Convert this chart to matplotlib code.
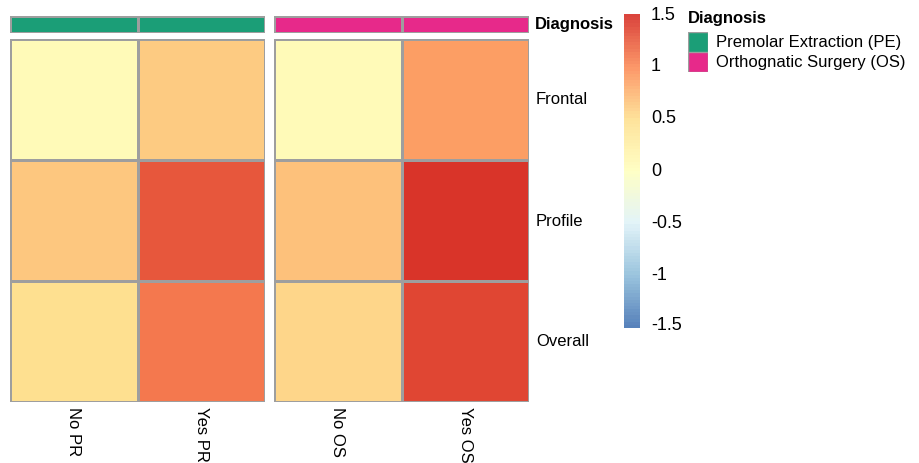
import numpy as np
import matplotlib
matplotlib.use("Agg")
import matplotlib.pyplot as plt
from matplotlib.colors import LinearSegmentedColormap, ListedColormap

plt.rcParams['font.family'] = ['Liberation Sans', 'DejaVu Sans']

# data
rows = ["Frontal", "Profile", "Overall"]
cols_pe = ["No PR", "Yes PR"]
cols_os = ["No OS", "Yes OS"]
vals_pe = [[0.07, 0.60],
           [0.63, 1.27],
           [0.48, 1.08]]
vals_os = [[0.07, 0.88],
           [0.66, 1.47],
           [0.55, 1.37]]
groups = ["Premolar Extraction (PE)", "Orthognatic Surgery (OS)"]
group_colors = ["#1B9E77", "#E7298A"]
breaks = [-1.5, -1, -0.5, 0, 0.5, 1, 1.5]

W, H = 919, 463
fig = plt.figure(figsize=(W / 100, H / 100), dpi=100)
FS = 12

def px(x0, y0, x1, y1):
    # pixel box -> figure fraction
    return [x0 / W, 1 - y1 / H, (x1 - x0) / W, (y1 - y0) / H]

# RdYlBu reversed, 7 brewer colours stretched to 100 steps
base = ["#4575B4", "#91BFDB", "#E0F3F8", "#FFFFBF", "#FEE090", "#FC8D59", "#D73027"]
smooth = LinearSegmentedColormap.from_list("rdylbu7", base)
cmap = ListedColormap(smooth(np.linspace(0, 1, 100)))
vmin, vmax = -1.5, 1.5
grid = "#9E9E9E"

panels = [(10, 265, vals_pe, cols_pe, 0), (274, 529, vals_os, cols_os, 1)]
for x0, x1, vals, cols, gi in panels:
    # annotation strip
    ax_a = fig.add_axes(px(x0, 16, x1, 33))
    ax_a.pcolormesh(np.zeros((1, len(cols))), cmap=ListedColormap([group_colors[gi]]),
                    edgecolors=grid, linewidth=1.0)
    ax_a.set_axis_off()

    # heatmap body
    ax = fig.add_axes(px(x0, 39, x1, 402))
    ax.pcolormesh(np.array(vals), cmap=cmap, vmin=vmin, vmax=vmax,
                  edgecolors=grid, linewidth=1.0)
    ax.set_xlim(0, len(cols))
    ax.set_ylim(len(rows), 0)
    ax.set_axis_off()
    cw = (x1 - x0) / len(cols)
    for j, c in enumerate(cols):
        fig.text((x0 + cw * (j + 0.5)) / W, 1 - 407 / H, c,
                 rotation=270, ha="center", va="top", fontsize=FS)

for i, r in enumerate(rows):
    fig.text(536 / W, 1 - (100 + i * 121) / H, r, ha="left", va="center", fontsize=FS)
fig.text(535 / W, 1 - 25 / H, "Diagnosis", ha="left", va="center",
         fontsize=FS, fontweight="bold")

# colour key
cax = fig.add_axes(px(624, 14, 640, 328))
cb_vals = np.linspace(vmin, vmax, 101)
cax.pcolormesh([0, 1], cb_vals, ((cb_vals[:-1] + cb_vals[1:]) / 2)[:, None],
               cmap=cmap, vmin=vmin, vmax=vmax, alpha=0.9)
cax.set_ylim(vmin, vmax)
cax.set_xlim(0, 1)
cax.set_axis_off()
for b in breaks:
    yp = 14 + (vmax - b) / (vmax - vmin) * (328 - 14)
    yp = min(max(yp, 16), 326)
    fig.text(651 / W, 1 - yp / H, f"{b:g}", ha="left", va="center", fontsize=13)

# annotation legend
fig.text(688 / W, 1 - 19 / H, "Diagnosis", ha="left", va="center",
         fontsize=FS, fontweight="bold")
for k, (g, c) in enumerate(zip(groups, group_colors)):
    y0 = 32 + k * 20
    lax = fig.add_axes(px(688, y0, 708, y0 + 20))
    lax.add_patch(plt.Rectangle((0, 0), 1, 1, facecolor=c, edgecolor=grid, linewidth=1.0))
    lax.set_xlim(0, 1)
    lax.set_ylim(0, 1)
    lax.set_axis_off()
    fig.text(716 / W, 1 - (y0 + 10) / H, g, ha="left", va="center", fontsize=FS)

fig.savefig("out.png", dpi=100)
